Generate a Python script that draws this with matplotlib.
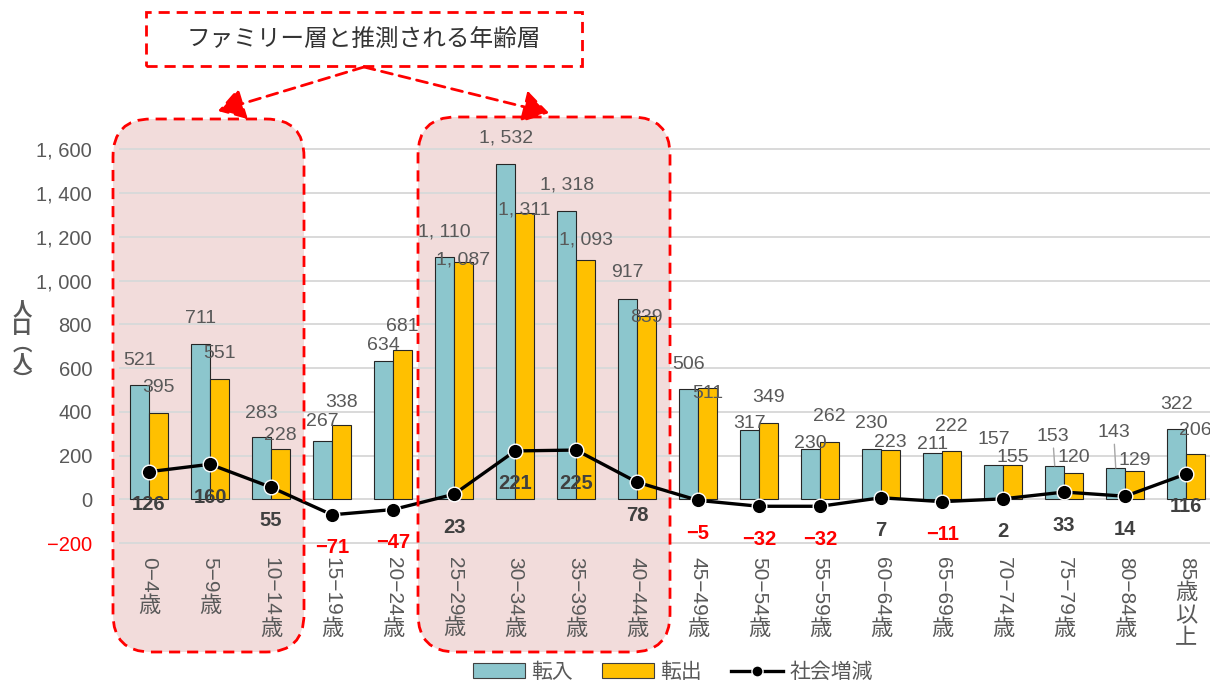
import numpy as np
import matplotlib.pyplot as plt
from matplotlib.patches import FancyBboxPatch, FancyArrowPatch, Patch
from matplotlib.lines import Line2D
from matplotlib.transforms import IdentityTransform

# age groups and migration counts (people)
ages = ['0−4歳', '5−9歳', '10−14歳', '15−19歳', '20−24歳', '25−29歳',
        '30−34歳', '35−39歳', '40−44歳', '45−49歳', '50−54歳', '55−59歳',
        '60−64歳', '65−69歳', '70−74歳', '75−79歳', '80−84歳', '85歳以上']
tennyu = [521, 711, 283, 267, 634, 1110, 1532, 1318, 917,
          506, 317, 230, 230, 211, 157, 153, 143, 322]
tenshutsu = [395, 551, 228, 338, 681, 1087, 1311, 1093, 839,
             511, 349, 262, 223, 222, 155, 120, 129, 206]
zougen = [126, 160, 55, -71, -47, 23, 221, 225, 78,
          -5, -32, -32, 7, -11, 2, 33, 14, 116]
y_ticks = [-200, 0, 200, 400, 600, 800, 1000, 1200, 1400, 1600]

# label nudges in pixels (label centre above bar top)
in_off = [25, 25, 24, 19, 15, 25, 26, 26, 26, 24, 6, 5, 25, 9, 25, 29, 35, 24]
out_off = [25, 25, 14, 23, 24, 1.5, 2.5, 20, -2, -6, 25, 25, 7.5, 24, 8, 16, 11, 24]
leader = [False] * 15 + [True, True, False]

TEAL = '#8CC6CD'
GOLD = '#FFC000'
GRAY = '#595959'
DARK = '#404040'
RED = '#FF0000'
PINK = '#F2DCDB'
NUM_FONT = ['Liberation Sans', 'DejaVu Sans']
JP_FONT = ['Noto Sans CJK JP', 'DejaVu Sans']

W, H = 1210, 684
fig = plt.figure(figsize=(W / 100, H / 100), dpi=100)
fig.patch.set_facecolor('white')


def disp(x, y):
    # pixel position measured from the top-left corner -> display coords
    return x, H - y


def fmt(v):
    return f'{v:,}'.replace(',', ', ').replace('-', '−')


# shaded family age groups behind the plot
for x0, y0, x1, y1 in [(113, 119, 304, 652), (418, 117, 670, 652)]:
    bx, by = disp(x0, y1)
    kw = dict(boxstyle='round,pad=0,rounding_size=38', transform=IdentityTransform())
    fig.add_artist(FancyBboxPatch((bx, by), x1 - x0, y1 - y0, facecolor=PINK,
                                  edgecolor='none', zorder=-2, **kw))
    fig.add_artist(FancyBboxPatch((bx, by), x1 - x0, y1 - y0, facecolor='none',
                                  edgecolor=RED, lw=2, linestyle=(0, (4, 2.5)),
                                  zorder=5, **kw))

# chart area
top_px, bot_px = 138.4, 545.2
ax = fig.add_axes([118.5 / W, 1 - bot_px / H, (W - 118.5) / W, (bot_px - top_px) / H])
ax.set_facecolor('none')
for s in ax.spines.values():
    s.set_visible(False)

x = np.arange(len(ages))
w = 0.31
ax.bar(x - w / 2, tennyu, w, color=TEAL, edgecolor='#262626', lw=0.8, zorder=2)
ax.bar(x + w / 2, tenshutsu, w, color=GOLD, edgecolor='#262626', lw=0.8, zorder=2)
ax.plot(x, zougen, color='black', lw=2.4, marker='o', ms=10.5,
        mfc='black', mec='white', mew=1, zorder=4)

ax.set_xlim(-0.5, 17.39)
ax.set_ylim(-210, 1650)
ax.set_yticks(y_ticks)
ax.set_yticklabels([fmt(v) for v in y_ticks])
ax.set_xticks([])
ax.grid(axis='y', color='#D9D9D9', lw=1.4)
ax.set_axisbelow(True)
ax.tick_params(axis='y', length=0, pad=19, labelsize=14.5, labelcolor=GRAY)
for lab, v in zip(ax.get_yticklabels(), y_ticks):
    lab.set_family(NUM_FONT)
    if v < 0:
        lab.set_color(RED)

# value labels
for i in range(len(ages)):
    arrow = dict(arrowstyle='-', color='#A6A6A6', lw=1, shrinkA=0, shrinkB=0) if leader[i] else None
    ax.annotate(fmt(tennyu[i]), xy=(x[i] - w / 2, tennyu[i]), xytext=(-2 if leader[i] else 0, in_off[i]),
                textcoords='offset pixels', ha='center', va='center', fontsize=14,
                family=NUM_FONT, color=GRAY, arrowprops=arrow, zorder=6)
    ax.annotate(fmt(tenshutsu[i]), xy=(x[i] + w / 2, tenshutsu[i]), xytext=(0, out_off[i]),
                textcoords='offset pixels', ha='center', va='center', fontsize=14,
                family=NUM_FONT, color=GRAY, zorder=6)
    ax.annotate(fmt(zougen[i]), xy=(x[i], zougen[i]), xytext=(0, -33),
                textcoords='offset pixels', ha='center', va='center', fontsize=14.5,
                family=NUM_FONT, weight='bold', color=RED if zougen[i] < 0 else DARK, zorder=6)

# category labels: digits turned sideways, kanji stacked upright
fig.canvas.draw()
renderer = fig.canvas.get_renderer()
for i, lab in enumerate(ages):
    k = next(j for j, c in enumerate(lab) if ord(c) > 0x2FFF)
    num, kanji = lab[:k], lab[k:]
    t = ax.annotate(num, xy=(x[i], 0), xycoords=('data', 'axes fraction'),
                    xytext=(0, -(557 - bot_px)), textcoords='offset pixels',
                    rotation=-90, ha='center', va='top', fontsize=15,
                    family=NUM_FONT, color=GRAY)
    h = t.get_window_extent(renderer).height
    ax.annotate('\n'.join(kanji), xy=(x[i], 0), xycoords=('data', 'axes fraction'),
                xytext=(0, -(557 - bot_px) - h - 1), textcoords='offset pixels',
                ha='center', va='top', fontsize=16, linespacing=0.98,
                family=JP_FONT, color=GRAY)

# axis title
fig.text(22 / W, 1 - 345 / H, '人\n口\n︵\n人\n︶', ha='center', va='center',
         fontsize=14, weight='bold', family=JP_FONT, color=GRAY, linespacing=0.92)

# callout box and arrows
bx, by = disp(146, 66)
fig.add_artist(FancyBboxPatch((bx, by), 436, 54, boxstyle='square,pad=0',
                              transform=IdentityTransform(), facecolor='white',
                              edgecolor=RED, lw=2, linestyle=(0, (4, 2.5)), zorder=6))
fig.text(364 / W, 1 - 40 / H, 'ファミリー層と推測される年齢層', ha='center', va='center',
         fontsize=17, family=JP_FONT, color='#333333', zorder=7)
for end in [(218, 111), (549, 113)]:
    fig.add_artist(FancyArrowPatch(disp(364, 67), disp(*end), transform=IdentityTransform(),
                                   arrowstyle='-|>,head_length=0.8,head_width=0.5',
                                   mutation_scale=20, color=RED, lw=2,
                                   linestyle=(0, (4, 2.5)), shrinkA=0, shrinkB=0, zorder=6))

# legend
handles = [Patch(facecolor=TEAL, edgecolor='#404040', lw=0.8),
           Patch(facecolor=GOLD, edgecolor='#404040', lw=0.8),
           Line2D([], [], color='black', lw=2.4, marker='o', ms=8, mfc='black', mec='white')]
fig.legend(handles, ['転入', '転出', '社会増減'], loc='center', ncol=3,
           bbox_to_anchor=(673 / W, 1 - 672 / H), frameon=False,
           prop={'family': JP_FONT, 'size': 15}, labelcolor=GRAY,
           handlelength=2.5, handleheight=0.7, handletextpad=0.3, columnspacing=1.4)

fig.savefig('out.png', dpi=100)
